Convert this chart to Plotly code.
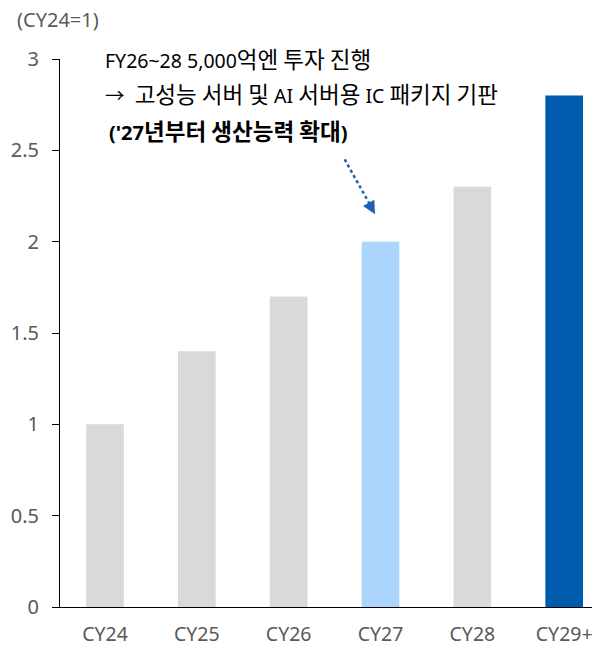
import re
import plotly.graph_objects as go

categories = ["CY24", "CY25", "CY26", "CY27", "CY28", "CY29+"]
values = [1.0, 1.4, 1.7, 2.0, 2.3, 2.8]
bar_colors = ["#D9D9D9", "#D9D9D9", "#D9D9D9", "#ABD5FD", "#D9D9D9", "#005BAC"]
y_ticks = [0, 0.5, 1, 1.5, 2, 2.5, 3]
y_tick_labels = ["0", "0.5", "1", "1.5", "2", "2.5", "3"]
note_lines = [
    "FY26~28 5,000억엔 투자 진행",
    "→  고성능 서버 및 AI 서버용 IC 패키지 기판",
    "('27년부터 생산능력 확대)",
]

font_family = "Noto Sans, Noto Sans CJK KR, sans-serif"


def big_hangul(s, px=22):
    # Hangul glyphs in the reference are visually larger than the Latin ones
    return re.sub(r"([\uac00-\ud7a3]+)", r"<span style='font-size:%spx'>\1</span>" % px, s)


fig = go.Figure()
fig.add_trace(go.Bar(
    x=list(range(len(categories))), y=values,
    marker=dict(color=bar_colors, line=dict(width=0)),
    width=0.41,
    hoverinfo="skip",
))

# Page body has an 8px margin, so the figure is 8px smaller than the window
fig.update_layout(
    width=592, height=637,
    margin=dict(l=52, r=0, t=51, b=38, autoexpand=False),
    plot_bgcolor="white", paper_bgcolor="white",
    showlegend=False,
    font=dict(family=font_family, size=20, color="#595959"),
    xaxis=dict(
        tickmode="array", tickvals=list(range(len(categories))), ticktext=categories,
        range=[-0.49, 5.39], showgrid=False, zeroline=False,
        showline=True, linecolor="black", linewidth=1,
        ticks="", ticklabelstandoff=10, automargin=False,
        tickfont=dict(size=19.5, color="#595959", family=font_family),
        fixedrange=True,
    ),
    yaxis=dict(
        range=[0, 3], tickmode="array", tickvals=y_ticks, ticktext=y_tick_labels,
        showgrid=False, zeroline=False,
        showline=True, linecolor="black", linewidth=1,
        ticks="outside", ticklen=7, tickcolor="black", tickwidth=1,
        ticklabelstandoff=9, automargin=False,
        tickfont=dict(size=20, color="#595959", family=font_family),
        fixedrange=True,
    ),
)

# Unit label
fig.add_annotation(xref="paper", yref="paper", x=-0.083, y=1.072, xanchor="left", yanchor="middle",
                   text="(CY24=1)", showarrow=False,
                   font=dict(size=20, color="#595959", family=font_family))

# Text annotations
fig.add_annotation(xref="paper", yref="y", x=0, y=3.0, xanchor="left", yanchor="middle",
                   xshift=43, text=big_hangul(note_lines[0], 22.5), showarrow=False,
                   font=dict(size=19.5, color="black", family=font_family))
fig.add_annotation(xref="paper", yref="y", x=0, y=2.805, xanchor="left", yanchor="middle",
                   xshift=43, text=big_hangul(note_lines[1], 22.5), showarrow=False,
                   font=dict(size=19.5, color="black", family=font_family))
fig.add_annotation(xref="paper", yref="y", x=0, y=2.605, xanchor="left", yanchor="middle",
                   xshift=47, text="<b>" + big_hangul(note_lines[2], 22.5) + "</b>", showarrow=False,
                   font=dict(size=20, color="black", family=font_family))

# Dotted arrow
fig.add_shape(type="line", xref="x", yref="y", x0=2.61, y0=2.45, x1=2.905, y1=2.185,
              line=dict(color="#1F5FB0", width=2.5, dash="dot"))
fig.add_annotation(xref="x", yref="y", x=2.94, y=2.15, ax=2.89, ay=2.195, axref="x", ayref="y",
                   text="", showarrow=True, arrowhead=2, arrowsize=1.3, arrowwidth=2,
                   arrowcolor="#1F5FB0")

fig.write_html("out.html")
